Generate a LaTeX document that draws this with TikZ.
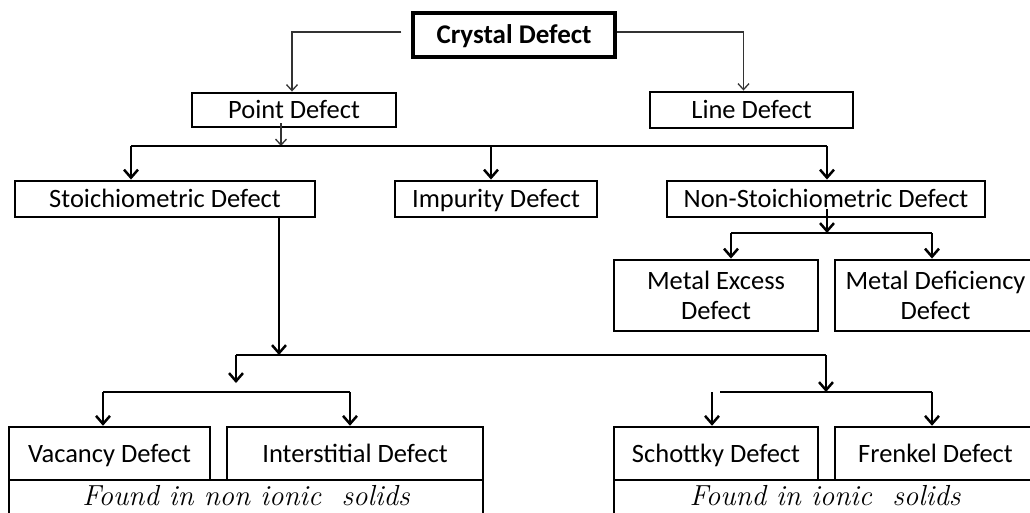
\documentclass[tikz,border=0pt]{standalone}
\usepackage{fontspec}
\setmainfont{Carlito}
\newfontfamily\capfont{Latin Modern Roman}
\usetikzlibrary{arrows.meta}
\tikzset{
  box/.style={draw=black, line width=2.9pt, inner sep=0pt, align=center, font=\fontsize{26.5}{30}\selectfont},
  one/.style={text height=19pt, text depth=2pt},
  lowbox/.style={box, line width=2.5pt},
  notebox/.style={draw=black, line width=2.5pt, inner sep=0pt, text height=20pt, text depth=6pt, font=\capfont\itshape\fontsize{29}{32}\selectfont},
  thinarr/.style={draw=black!80, line width=1.5pt, -{Straight Barb[length=6pt,width=11pt,line width=1.3pt]}},
  thk/.style={draw=black, line width=2.8pt},
  thkarr/.style={thk, -{Straight Barb[length=8pt,width=14pt,line width=2.5pt]}}
}
\begin{document}
\begin{tikzpicture}[x=1pt,y=-1pt]
\useasboundingbox[fill=white] (0,0) rectangle (1030,512);
% boxes
\node[box, one, line width=3.2pt, minimum width=202pt, minimum height=44pt, font=\bfseries\fontsize{27}{30}\selectfont] (cd) at (514,35) {Crystal Defect};
\node[box, one, minimum width=204pt, minimum height=34pt] (pd) at (294,110) {Point Defect};
\node[box, one, minimum width=203pt, minimum height=36pt] (ld) at (751.5,110) {Line Defect};
\node[box, one, minimum width=300pt, minimum height=36pt] (sd) at (165,199) {Stoichiometric Defect};
\node[box, one, minimum width=202pt, minimum height=36pt] (id) at (496,199) {Impurity Defect};
\node[box, one, minimum width=318pt, minimum height=36pt] (nsd) at (826,199) {Non-Stoichiometric Defect};
\node[box, minimum width=204pt, minimum height=71pt] (me) at (716,295.5) {Metal Excess\\Defect};
\node[box, minimum width=201pt, minimum height=71pt] (mdf) at (935.5,295.5) {Metal Deficiency\\Defect};
\node[lowbox, one, minimum width=201pt, minimum height=53pt] (vac) at (109.5,453.5) {Vacancy Defect};
\node[lowbox, one, minimum width=256pt, minimum height=53pt] (int) at (355,453.5) {Interstitial Defect};
\node[notebox, minimum width=474pt, minimum height=36pt] (fnon) at (246,498) {Found in non ionic\ \ solids};
\node[lowbox, one, minimum width=204pt, minimum height=53pt] (sch) at (716,453.5) {Schottky Defect};
\node[lowbox, one, minimum width=201pt, minimum height=53pt] (fre) at (935.5,453.5) {Frenkel Defect};
\node[notebox, minimum width=422pt, minimum height=36pt] (fion) at (825,498) {Found in ionic\ \ solids};
% junction coordinates
\coordinate (j1) at (281,146);
\coordinate (b1) at (131,146);
\coordinate (bi) at (491,146);
\coordinate (b2) at (827,146);
\coordinate (n1) at (827,233);
\coordinate (n2) at (731,233);
\coordinate (n3) at (932,233);
\coordinate (s1) at (279,355);
\coordinate (s2) at (236,355);
\coordinate (s3) at (826,355);
\coordinate (s4) at (236,383);
\coordinate (l1) at (103,392);
\coordinate (l2) at (350,392);
\coordinate (r0) at (720,392);
\coordinate (r1) at (826,392);
\coordinate (r2) at (932,392);
\coordinate (r3) at (712,392);
% top level
\draw[thinarr] ([xshift=-10pt,yshift=3pt]cd.west) -| ([xshift=-2pt]pd.north);
\draw[thinarr] ([yshift=3pt]cd.east) -| ([xshift=-8pt]ld.north);
\draw[thinarr] ([xshift=-13pt,yshift=5pt]pd.south) -- (j1);
% point defect bus
\draw[thk] (b1) -- (b2);
\draw[thkarr] (b1) -- (b1 |- sd.north);
\draw[thkarr] (bi) -- (bi |- id.north);
\draw[thkarr] (b2) -- (b2 |- nsd.north);
% non-stoichiometric
\draw[thkarr] ([yshift=9pt]n1 |- nsd.south) -- (n1);
\draw[thk] (n2) -- (n3);
\draw[thkarr] (n2) -- (n2 |- me.north);
\draw[thkarr] (n3) -- (n3 |- mdf.north);
% stoichiometric
\draw[thkarr] (s1 |- sd.south) -- (s1);
\draw[thk] (s2) -- (s3);
\draw[thkarr] (s2) -- (s4);
\draw[thkarr] (s3) -- (r1);
\draw[thk] (l1) -- (l2);
\draw[thkarr] (l1) -- (l1 |- vac.north);
\draw[thkarr] (l2) -- (l2 |- int.north);
\draw[thk] (r0) -- (r2);
\draw[thkarr] (r2) -- (r2 |- fre.north);
\draw[thkarr] (r3) -- (r3 |- sch.north);
\end{tikzpicture}
\end{document}
